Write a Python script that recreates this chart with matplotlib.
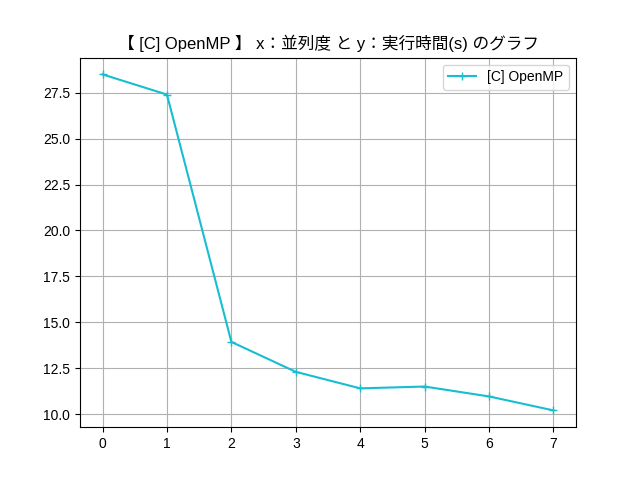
import matplotlib
import matplotlib.pyplot as plt

matplotlib.use("Agg")

plt.rcParams["font.family"] = ["Liberation Sans", "Noto Sans CJK JP", "DejaVu Sans"]

parallelism = [0, 1, 2, 3, 4, 5, 6, 7]
exec_time = [28.5, 27.4, 13.93, 12.3, 11.4, 11.5, 10.96, 10.2]
label = "[C] OpenMP"
title = "【 [C] OpenMP 】 x：並列度 と y：実行時間(s) のグラフ"

fig, ax = plt.subplots(figsize=(6.4, 4.8), dpi=100)
ax.plot(parallelism, exec_time, marker="+", color="tab:cyan", label=label)
ax.set_title(title)
ax.grid(True)
ax.legend(loc="upper right")
fig.savefig("out.png")
